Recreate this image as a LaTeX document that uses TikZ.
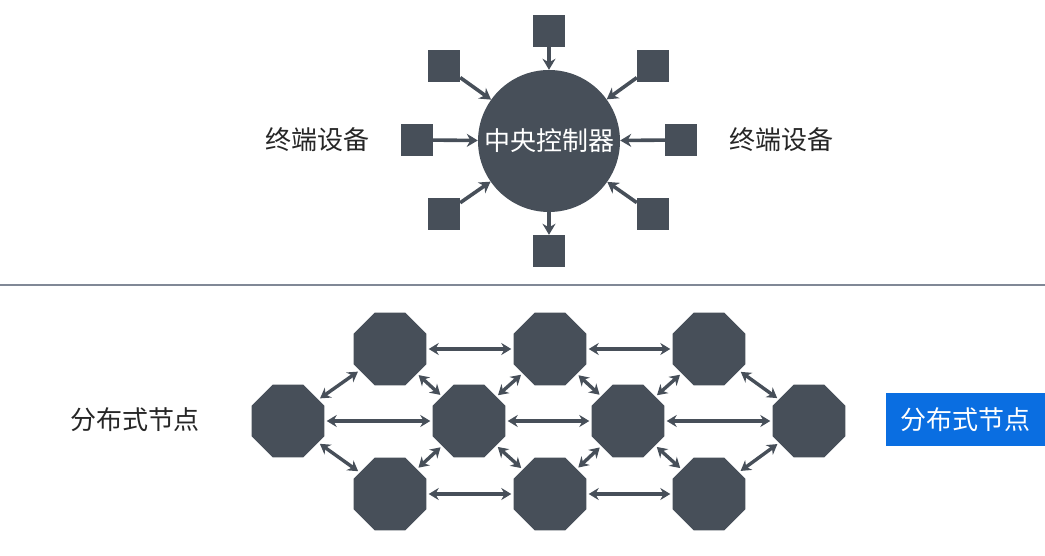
\documentclass[tikz,border=0pt]{standalone}
\usepackage{fontspec}
\newfontfamily\cjk{Noto Sans CJK SC}
\usepackage{tikz}
\usetikzlibrary{shapes.geometric, arrows.meta, positioning}
\definecolor{slate}{RGB}{71,79,89}
\definecolor{rule}{RGB}{128,136,150}
\definecolor{hiblue}{RGB}{10,110,225}

\begin{document}
\begin{tikzpicture}[
  x=1pt, y=-1pt,
  every node/.style={font=\cjk\fontsize{26}{30}\selectfont},
  dev/.style={fill=slate, minimum size=32pt, inner sep=0pt},
  ctrl/.style={circle, fill=slate, minimum size=142pt, inner sep=0pt, text=white},
  peer/.style={regular polygon, regular polygon sides=8, fill=slate,
               minimum size=79pt, inner sep=0pt},
  lbl/.style={text=black!85},
  tag/.style={fill=hiblue, text=white, minimum width=159pt, minimum height=53pt},
  arr/.style={-{Stealth[length=11pt, width=13pt]}, line width=3.6pt, draw=slate},
  biarr/.style={{Stealth[length=10pt, width=12pt]}-{Stealth[length=10pt, width=12pt]},
                line width=3.4pt, draw=slate, shorten <=2pt, shorten >=2pt},
]
\useasboundingbox (0,0) rectangle (1045,556);

% --- top: central controller + terminals
\node[ctrl] (ctrl) at (549,141) {中央控制器};
\node[dev] (devT)  at (549,31)  {};
\node[dev] (devTL) at (444,66)  {};
\node[dev] (devTR) at (653,66)  {};
\node[dev] (devL)  at (417,140) {};
\node[dev] (devR)  at (681,140) {};
\node[dev] (devBL) at (444,214) {};
\node[dev] (devBR) at (653,214) {};
\node[dev] (devB)  at (549,251) {};
\draw[arr] (devT) -- (ctrl);
\draw[arr] (devTL) -- (ctrl);
\draw[arr] (devTR) -- (ctrl);
\draw[arr] (devL) -- (ctrl);
\draw[arr] (devR) -- (ctrl);
\draw[arr] (devBL) -- (ctrl);
\draw[arr] (devBR) -- (ctrl);
\draw[arr] (ctrl) -- (devB);

\node[lbl] (termL) at (317,140) {终端设备};
\node[lbl] (termR) at (781,140) {终端设备};

% --- divider
\draw[rule, line width=1.8pt] (0,285) -- (1045,285);

% --- bottom: distributed nodes
\node[peer] (pTL) at (390,349) {};
\node[peer] (pTM) at (550,349) {};
\node[peer] (pTR) at (709,349) {};
\node[peer] (pL)  at (288,421) {};
\node[peer] (pML) at (469,421) {};
\node[peer] (pMR) at (628,421) {};
\node[peer] (pR)  at (809,421) {};
\node[peer] (pBL) at (390,494) {};
\node[peer] (pBM) at (550,494) {};
\node[peer] (pBR) at (709,494) {};

\draw[biarr] (pTL) -- (pTM);
\draw[biarr] (pTM) -- (pTR);
\draw[biarr] (pL) -- (pML);
\draw[biarr] (pML) -- (pMR);
\draw[biarr] (pMR) -- (pR);
\draw[biarr] (pBL) -- (pBM);
\draw[biarr] (pBM) -- (pBR);
\draw[biarr] (pL) -- (pTL);
\draw[biarr] (pL) -- (pBL);
\draw[biarr] (pTL) -- (pML);
\draw[biarr] (pTM) -- (pML);
\draw[biarr] (pBL) -- (pML);
\draw[biarr] (pBM) -- (pML);
\draw[biarr] (pTM) -- (pMR);
\draw[biarr] (pTR) -- (pMR);
\draw[biarr] (pBM) -- (pMR);
\draw[biarr] (pBR) -- (pMR);
\draw[biarr] (pTR) -- (pR);
\draw[biarr] (pBR) -- (pR);

\node[lbl] (distL) at (135,420) {分布式节点};
\node[tag] (distR) at (965.5,419.5) {分布式节点};
\end{tikzpicture}
\end{document}
